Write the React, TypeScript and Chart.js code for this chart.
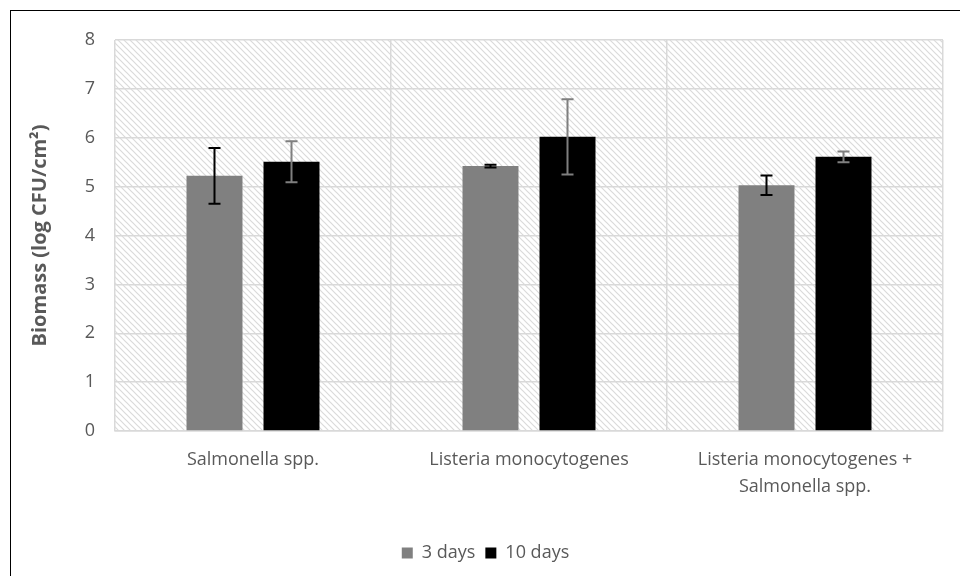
import React, { useEffect, useRef } from "react";
import { Chart, registerables } from "chart.js";

Chart.register(...registerables);

const categories: (string | string[])[] = [
  "Salmonella spp.",
  "Listeria monocytogenes",
  ["Listeria monocytogenes +", "Salmonella spp."],
];
const seriesNames = ["3 days", "10 days"];
const days3 = [5.22, 5.42, 5.03];
const days10 = [5.51, 6.02, 5.61];
const err3 = [0.57, 0.03, 0.2];
const err10 = [0.42, 0.77, 0.11];
const yTicks = [0, 1, 2, 3, 4, 5, 6, 7, 8];

const TEXT = "#595959";
const FONT = "'Open Sans', sans-serif";

function makePattern(): CanvasPattern | string {
  const c = document.createElement("canvas");
  const s = 6;
  c.width = s;
  c.height = s;
  const g = c.getContext("2d");
  if (!g) return "#fff";
  g.fillStyle = "#ffffff";
  g.fillRect(0, 0, s, s);
  g.strokeStyle = "#dadada";
  g.lineWidth = 1.2;
  g.beginPath();
  g.moveTo(-1, -1);
  g.lineTo(s + 1, s + 1);
  g.moveTo(-1, s - 1);
  g.lineTo(1, s + 1);
  g.moveTo(s - 1, -1);
  g.lineTo(s + 1, 1);
  g.stroke();
  const p = g.createPattern(c, "repeat");
  return p || "#fff";
}

const hatchPlugin = {
  id: "hatchBg",
  beforeDraw(chart: any) {
    const { ctx, chartArea } = chart;
    if (!chartArea) return;
    ctx.save();
    ctx.fillStyle = makePattern();
    ctx.fillRect(chartArea.left, chartArea.top, chartArea.right - chartArea.left, chartArea.bottom - chartArea.top);
    ctx.restore();
  },
};

const errorPlugin = {
  id: "errBars",
  afterDatasetsDraw(chart: any) {
    const { ctx } = chart;
    const y = chart.scales.y;
    const errs = [err3, err10];
    const colors = ["#000000", "#7f7f7f"];
    chart.data.datasets.forEach((ds: any, di: number) => {
      const meta = chart.getDatasetMeta(di);
      meta.data.forEach((bar: any, i: number) => {
        const v = ds.data[i];
        const e = errs[di][i];
        const x = bar.x;
        const yt = y.getPixelForValue(v + e);
        const yb = y.getPixelForValue(v - e);
        ctx.save();
        ctx.strokeStyle = colors[di];
        ctx.lineWidth = 2;
        ctx.beginPath();
        ctx.moveTo(x, yt);
        ctx.lineTo(x, yb);
        ctx.moveTo(x - 6, yt);
        ctx.lineTo(x + 6, yt);
        ctx.moveTo(x - 6, yb);
        ctx.lineTo(x + 6, yb);
        ctx.stroke();
        ctx.restore();
      });
    });
  },
};

export default function App() {
  const ref = useRef<HTMLCanvasElement>(null);
  useEffect(() => {
    if (!ref.current) return;
    const chart = new Chart(ref.current, {
      type: "bar",
      data: {
        labels: categories as any,
        datasets: [
          {
            label: seriesNames[0],
            data: days3,
            backgroundColor: "#808080",
            barPercentage: 0.727,
            categoryPercentage: 0.558,
          },
          {
            label: seriesNames[1],
            data: days10,
            backgroundColor: "#000000",
            barPercentage: 0.727,
            categoryPercentage: 0.558,
          },
        ],
      },
      options: {
        responsive: false,
        animation: false,
        layout: { padding: { left: 28, right: 17, top: 40, bottom: 4 } },
        plugins: {
          legend: {
            position: "bottom",
            labels: {
              boxWidth: 11,
              boxHeight: 11,
              color: TEXT,
              font: { family: FONT, size: 18 },
              padding: 10,
            },
          },
          tooltip: { enabled: false },
        },
        scales: {
          x: {
            grid: { color: "#d9d9d9", lineWidth: 1.5, drawTicks: false, offset: true },
            border: { color: "#d9d9d9", width: 1.5 },
            ticks: {
              color: TEXT,
              font: { family: FONT, size: 18, lineHeight: 1.5 },
              padding: 15,
              maxRotation: 0,
              autoSkip: false,
            },
            afterFit(scale: any) {
              scale.height = 103;
            },
          },
          y: {
            min: yTicks[0],
            max: yTicks[yTicks.length - 1],
            afterBuildTicks(scale: any) {
              scale.ticks = yTicks.map((v) => ({ value: v }));
            },
            grid: { color: "#d9d9d9", lineWidth: 1.5, drawTicks: false },
            border: { display: false },
            ticks: {
              color: TEXT,
              font: { family: FONT, size: 18 },
              padding: 20,
            },
            title: {
              display: true,
              text: "Biomass (log CFU/cm²)",
              color: TEXT,
              font: { family: FONT, size: 20, weight: "bold" },
              padding: 0,
            },
            afterFit(scale: any) {
              scale.width = 87;
            },
          },
        },
      },
      plugins: [hatchPlugin, errorPlugin],
    });
    return () => chart.destroy();
  }, []);
  return (
    <div style={{ position: "fixed", left: 0, top: 0, width: 960, height: 576, background: "#fff", overflow: "hidden" }}>
      <canvas ref={ref} width={960} height={576} style={{ position: "absolute", left: 0, top: 0, width: 960, height: 576 }} />
      <div
        style={{
          position: "absolute",
          left: 10,
          top: 10,
          width: 960,
          height: 576,
          border: "1px solid #000",
          pointerEvents: "none",
        }}
      />
    </div>
  );
}
